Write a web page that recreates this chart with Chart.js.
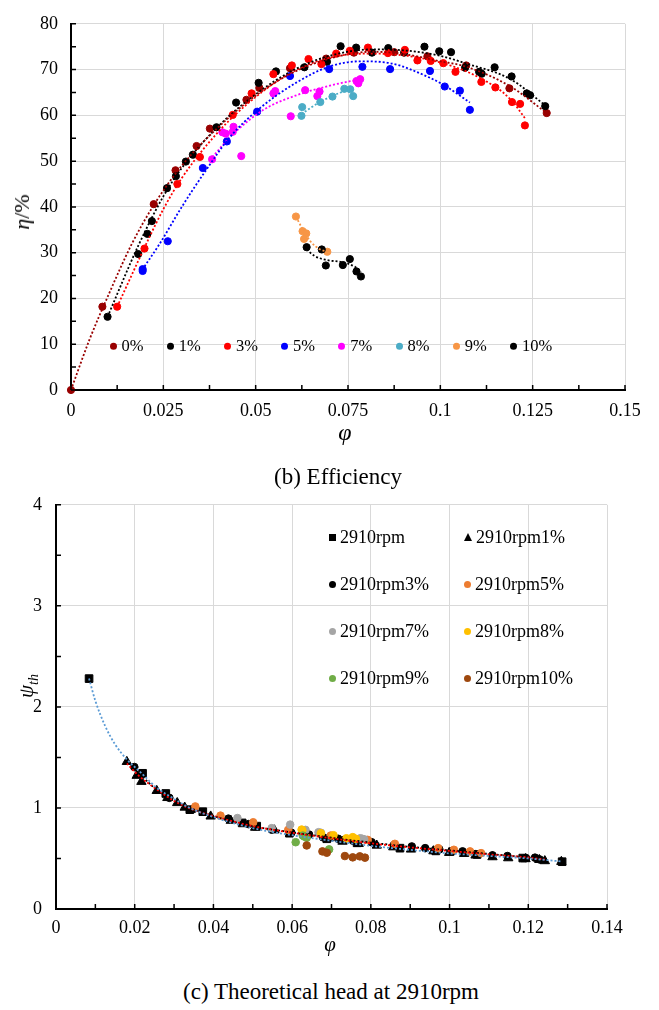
<!DOCTYPE html>
<html>
<head>
<meta charset="utf-8">
<title>Efficiency and theoretical head</title>
<script src="https://cdn.jsdelivr.net/npm/chart.js@4.4.1/dist/chart.umd.min.js"></script>
<style>
  body { margin: 0; background: #fff; font-family: "Liberation Serif", "Times New Roman", serif; color: #000; }
  #page { position: relative; width: 659px; height: 1010px; overflow: hidden; }
  canvas { position: absolute; left: 0; }
  .txt { position: absolute; transform: translate(-50%, -50%); white-space: nowrap; line-height: 1; }
  .rot { transform: translate(-50%, -50%) rotate(-90deg); }
  .leg { position: absolute; display: flex; align-items: center; white-space: nowrap; line-height: 1; transform: translateY(-50%); }
  .mk { display: inline-block; }
</style>
</head>
<body>
<div id="page">
  <canvas id="effChart" width="659" height="445" style="top:0"></canvas>
  <canvas id="headChart" width="659" height="480" style="top:480px"></canvas>
  <div class="txt rot" style="left:22px;top:212px;font-size:22px"><i>η</i>/%</div>
  <div class="txt" style="left:345px;top:432px;font-size:24px"><i>φ</i></div>
  <div class="txt" style="left:338px;top:476px;font-size:23px">(b) Efficiency</div>
  <div class="txt rot" style="left:26px;top:686px;font-size:21px"><i>ψ<span style="font-size:14px;position:relative;top:5px">th</span></i></div>
  <div class="txt" style="left:330px;top:944px;font-size:21px"><i>φ</i></div>
  <div class="txt" style="left:331px;top:991px;font-size:23px">(c) Theoretical head at 2910rpm</div>
  <div id="effLegend"></div>
  <div id="headLegend"></div>
</div>
<script>
Chart.defaults.font.family = "'Liberation Serif', 'Times New Roman', serif";
Chart.defaults.color = "#000";

// ---- (b) efficiency: [phi, eta %] per gas fraction ----
const effLabels = ["0%", "1%", "3%", "5%", "7%", "8%", "9%", "10%"];
const effColors = ["#990000", "#000000", "#ff0000", "#0000ff", "#ff00ff", "#4bacc6", "#f79646", "#000000"];

const eff0 = [[0, 0], [0.0085, 18.2], [0.0224, 40.6], [0.0283, 48.0], [0.0340, 53.3], [0.0376, 57.1], [0.0475, 63.4],
  [0.0510, 66.0], [0.0593, 70.3], [0.0691, 72.4], [0.0766, 73.7], [0.0875, 73.8], [0.0965, 72.9], [0.1070, 70.9],
  [0.1187, 65.9], [0.1288, 60.5]];
const eff1 = [[0.0099, 16.0], [0.0182, 29.7], [0.0207, 34.1], [0.0219, 36.9], [0.0260, 44.1], [0.0284, 46.7],
  [0.0311, 49.9], [0.0330, 51.4], [0.0394, 57.4], [0.0447, 62.8], [0.0508, 67.1], [0.0555, 69.6], [0.0632, 70.5],
  [0.0693, 71.7], [0.0730, 75.1], [0.0772, 74.8], [0.0815, 73.7], [0.0859, 74.7], [0.0902, 73.7], [0.0957, 75.0],
  [0.0997, 74.0], [0.1029, 73.8], [0.1067, 70.4], [0.1105, 69.5], [0.1112, 69.1], [0.1147, 70.5], [0.1193, 68.5],
  [0.1234, 64.8], [0.1243, 64.4], [0.1284, 62.0]];
const eff3 = [[0.0125, 18.2], [0.0199, 30.9], [0.0288, 45.0], [0.0349, 50.9], [0.0438, 60.1], [0.0489, 64.8],
  [0.0548, 69.0], [0.0598, 70.9], [0.0643, 72.3], [0.0678, 71.2], [0.0718, 73.5], [0.0755, 74.1], [0.0804, 74.8],
  [0.0858, 73.6], [0.0904, 74.3], [0.0938, 72.0], [0.0974, 71.9], [0.1008, 71.4], [0.1041, 69.5], [0.1111, 67.3],
  [0.1149, 66.1], [0.1194, 62.9], [0.1216, 62.5], [0.1229, 57.8]];
const eff5 = [[0.0194, 26.4], [0.0194, 26.0], [0.0262, 32.5], [0.0357, 48.5], [0.0422, 54.3], [0.0504, 60.8],
  [0.0593, 68.6], [0.0699, 70.1], [0.0789, 70.6], [0.0864, 70.1], [0.0972, 69.7], [0.1012, 66.3], [0.1053, 65.4],
  [0.1080, 61.2]];
const eff7 = [[0.0382, 50.4], [0.0410, 56.3], [0.0419, 56.0], [0.0438, 56.4], [0.0440, 57.5], [0.0461, 51.1],
  [0.0548, 64.8], [0.0553, 65.3], [0.0595, 59.8], [0.0634, 65.5], [0.0667, 64.2], [0.0673, 65.2], [0.0773, 67.5],
  [0.0778, 67.0], [0.0783, 67.9]];
const eff8 = [[0.0624, 59.9], [0.0626, 61.8], [0.0675, 62.9], [0.0708, 64.1], [0.0740, 65.8], [0.0756, 65.7], [0.0764, 64.2]];
const eff9 = [[0.0609, 37.9], [0.0627, 34.7], [0.0631, 33.0], [0.0637, 34.2], [0.0694, 30.2]];
const eff10 = [[0.0638, 31.2], [0.0679, 30.7], [0.0690, 27.2], [0.0736, 27.3], [0.0755, 28.6], [0.0773, 25.9], [0.0785, 24.8]];
const effSeries = [eff0, eff1, eff3, eff5, eff7, eff8, eff9, eff10];

// dotted trend lines
const effTrend0 = [[0, 0], [0.005, 11], [0.01, 20.5], [0.0164, 31.8], [0.0225, 40.5], [0.03, 49], [0.04, 57.5],
  [0.05, 64.3], [0.06, 69.3], [0.07, 72.4], [0.0815, 73.9], [0.09, 73.4], [0.1, 71.8], [0.1067, 70.7], [0.119, 66.3], [0.1288, 60.5]];
const effTrend1 = [[0.0099, 16], [0.0182, 31.5], [0.025, 42.3], [0.03, 48.5], [0.04, 57.7], [0.05, 64.6], [0.06, 69.8],
  [0.07, 73], [0.0815, 74.4], [0.09, 74.2], [0.1, 73], [0.1067, 71.4], [0.119, 67.9], [0.1284, 62.2]];
const effTrend3 = [[0.0125, 18.2], [0.0203, 31.8], [0.025, 39.5], [0.03, 46.3], [0.04, 56.5], [0.05, 64], [0.06, 69.5],
  [0.07, 72.6], [0.0815, 73.5], [0.0972, 72.1], [0.1107, 68.2], [0.119, 63.5], [0.1229, 59.4]];
const effTrend5 = [[0.0199, 27], [0.0239, 31.8], [0.03, 40], [0.0357, 47], [0.0431, 55.3], [0.0503, 61], [0.0611, 67.2],
  [0.0701, 70.7], [0.0783, 71.8], [0.0864, 71.4], [0.0972, 68.2], [0.1012, 66.5], [0.108, 62.8]];
const effTrend7 = [[0.0376, 50.2], [0.043, 55.2], [0.0521, 61.2], [0.0611, 64.4], [0.0701, 66.5], [0.0783, 67.9]];
const effTrend8 = [[0.0624, 60.3], [0.0674, 62.9], [0.0737, 65.2], [0.0764, 65.8]];
const effTrend9 = [[0.0609, 37.9], [0.0626, 35.3], [0.0648, 32.5], [0.0675, 30.7], [0.0694, 30.2]];
const effTrend10 = [[0.0638, 30.7], [0.0659, 29.3], [0.0692, 28.4], [0.0736, 27.9], [0.0769, 26.9], [0.0785, 25.8]];
const effTrends = [effTrend0, effTrend1, effTrend3, effTrend5, effTrend7, effTrend8, effTrend9, effTrend10];

const effXLabels = ["0", "0.025", "0.05", "0.075", "0.1", "0.125", "0.15"];
const effYLabels = ["0", "10", "20", "30", "40", "50", "60", "70", "80"];

// ---- (c) theoretical head at 2910rpm: [phi, psi_th] ----
const headLabels = ["2910rpm", "2910rpm1%", "2910rpm3%", "2910rpm5%", "2910rpm7%", "2910rpm8%", "2910rpm9%", "2910rpm10%"];
const headColors = ["#000000", "#000000", "#000000", "#ed7d31", "#a5a5a5", "#ffc000", "#70ad47", "#9e480e"];
const headShapes = ["rect", "triangle", "circle", "circle", "circle", "circle", "circle", "circle"];

const head0 = [[0.0084, 2.28], [0.0220, 1.343], [0.0279, 1.143], [0.0340, 0.983], [0.0373, 0.963], [0.0473, 0.852],
  [0.0510, 0.82], [0.0593, 0.75], [0.0688, 0.695], [0.0765, 0.655], [0.0874, 0.602], [0.0965, 0.575], [0.1070, 0.54],
  [0.1186, 0.504], [0.1286, 0.468]];
const head1 = [[0.0180, 1.457], [0.0205, 1.32], [0.0217, 1.26], [0.0256, 1.17], [0.0283, 1.10], [0.0308, 1.05],
  [0.0327, 1.005], [0.0393, 0.917], [0.0444, 0.875], [0.0506, 0.806], [0.0555, 0.78], [0.0632, 0.74], [0.0693, 0.70],
  [0.0728, 0.668], [0.0769, 0.645], [0.0815, 0.629], [0.0857, 0.612], [0.0902, 0.590], [0.0959, 0.573], [0.0999, 0.557],
  [0.1037, 0.547], [0.1066, 0.531], [0.1109, 0.514], [0.1149, 0.504], [0.1193, 0.495], [0.1228, 0.487], [0.1242, 0.475],
  [0.1284, 0.468]];
const head3 = [[0.0199, 1.405], [0.0288, 1.10], [0.0349, 0.99], [0.0438, 0.894], [0.0489, 0.84], [0.0548, 0.786],
  [0.0598, 0.755], [0.0643, 0.737], [0.0678, 0.71], [0.0717, 0.695], [0.0755, 0.675], [0.0802, 0.661], [0.0858, 0.63],
  [0.0904, 0.619], [0.0938, 0.602], [0.0974, 0.59], [0.1008, 0.575], [0.1033, 0.57], [0.1109, 0.531], [0.1147, 0.524],
  [0.1194, 0.505], [0.1217, 0.508], [0.1229, 0.49]];
const head5 = [[0.0354, 1.015], [0.0418, 0.924], [0.0501, 0.858], [0.0590, 0.783], [0.0698, 0.727], [0.0792, 0.684],
  [0.0861, 0.645], [0.0971, 0.602], [0.1011, 0.586], [0.1052, 0.57], [0.1080, 0.553]];
const head7 = [[0.0461, 0.90], [0.0548, 0.80], [0.0595, 0.835], [0.0634, 0.783], [0.0667, 0.76], [0.0673, 0.755],
  [0.0773, 0.70], [0.0778, 0.695], [0.0783, 0.69]];
const head8 = [[0.0624, 0.786], [0.0626, 0.78], [0.0673, 0.75], [0.0705, 0.73], [0.0738, 0.70], [0.0754, 0.711], [0.0762, 0.695]];
const head9 = [[0.0609, 0.661], [0.0627, 0.727], [0.0631, 0.717], [0.0637, 0.705], [0.0694, 0.59]];
const head10 = [[0.0637, 0.629], [0.0677, 0.57], [0.0688, 0.557], [0.0734, 0.524], [0.0754, 0.511], [0.0772, 0.521], [0.0785, 0.508]];
const headSeries = [head0, head1, head3, head5, head7, head8, head9, head10];

const headTrendBlue = [[0.0084, 2.28], [0.01, 2.06], [0.0125, 1.81], [0.015, 1.63], [0.018, 1.48], [0.0213, 1.36],
  [0.0256, 1.20], [0.03, 1.09], [0.034, 1.0], [0.04, 0.91], [0.05, 0.80], [0.06, 0.73], [0.07, 0.675], [0.08, 0.625],
  [0.09, 0.585], [0.1, 0.55], [0.11, 0.525], [0.12, 0.50], [0.1286, 0.47]];
const headTrendRed = [[0.018, 1.44], [0.021, 1.32], [0.025, 1.2], [0.03, 1.07], [0.035, 0.98], [0.04, 0.92], [0.05, 0.82],
  [0.06, 0.755], [0.07, 0.70], [0.08, 0.65], [0.09, 0.61], [0.1, 0.575], [0.11, 0.54], [0.12, 0.51], [0.1242, 0.49]];
const headTrendBlack = [[0.0199, 1.39], [0.025, 1.2], [0.03, 1.07], [0.04, 0.92], [0.05, 0.82], [0.06, 0.758],
  [0.07, 0.705], [0.08, 0.657], [0.09, 0.615], [0.1, 0.58], [0.11, 0.545], [0.1229, 0.5]];
const headTrends = [headTrendBlue, headTrendRed, headTrendBlack];
const headTrendColors = ["#5b9bd5", "#ff0000", "#000000"];

const headXLabels = ["0", "0.02", "0.04", "0.06", "0.08", "0.1", "0.12", "0.14"];
const headYLabels = ["0", "1", "2", "3", "4"];

const GRID = "#d9d9d9";

// labelled ticks plus a half-step minor tick between each pair
function withMinor(labels) {
  const major = labels.map(Number);
  const all = [];
  major.forEach((v, i) => {
    all.push(v);
    if (i < major.length - 1) all.push((v + major[i + 1]) / 2);
  });
  return all;
}

function axis(labels, fit, padding) {
  const values = withMinor(labels);
  return {
    type: "linear",
    min: values[0],
    max: values[values.length - 1],
    afterBuildTicks: s => { s.ticks = values.map(v => ({ value: v })); },
    afterFit: fit,
    ticks: {
      autoSkip: false,
      maxRotation: 0,
      padding: padding,
      font: { size: 18 },
      callback: (v, i) => i % 2 ? "" : labels[i / 2]
    },
    grid: {
      color: c => c.index % 2 ? "rgba(0,0,0,0)" : GRID,
      lineWidth: 1,
      drawTicks: false
    },
    border: { color: "#000", width: 2 }
  };
}

// short tick marks pointing into the plot, like the original
const innerTicks = {
  id: "innerTicks",
  afterDraw(chart) {
    const { ctx, chartArea, scales: { x, y } } = chart;
    ctx.save();
    ctx.strokeStyle = "#000";
    ctx.lineWidth = 1.5;
    ctx.beginPath();
    x.ticks.forEach(t => {
      const px = x.getPixelForValue(t.value);
      ctx.moveTo(px, chartArea.bottom);
      ctx.lineTo(px, chartArea.bottom - 5);
    });
    y.ticks.forEach(t => {
      const py = y.getPixelForValue(t.value);
      ctx.moveTo(chartArea.left, py);
      ctx.lineTo(chartArea.left + 5, py);
    });
    ctx.stroke();
    ctx.restore();
  }
};

function pointSet(label, data, color, shape, radius, index) {
  return {
    label: label,
    data: data,
    pointStyle: shape,
    pointRadius: radius,
    pointBackgroundColor: color,
    pointBorderColor: color,
    pointBorderWidth: 1,
    showLine: false,
    clip: false,
    order: 100 - index
  };
}

function trendSet(data, color) {
  return {
    data: data,
    showLine: true,
    borderColor: color,
    borderWidth: 1.8,
    borderDash: [2, 2],
    pointRadius: 0,
    cubicInterpolationMode: "monotone",
    clip: false,
    order: 0
  };
}

function baseOptions(xAxis, yAxis, pad) {
  return {
    responsive: false,
    animation: false,
    events: [],
    layout: { padding: pad },
    scales: { x: xAxis, y: yAxis },
    plugins: { legend: { display: false }, tooltip: { enabled: false } }
  };
}

new Chart(document.getElementById("effChart"), {
  type: "scatter",
  data: {
    datasets: effSeries.map((d, i) => pointSet(effLabels[i], d, effColors[i], "circle", 3.6, i))
      .concat(effTrends.map((d, i) => trendSet(d, effColors[i])))
  },
  options: baseOptions(
    axis(effXLabels, s => { s.height = 55; }, 10),
    axis(effYLabels, s => { s.width = 71; }, 13),
    { top: 13, right: 34, left: 0, bottom: 0 }
  ),
  plugins: [innerTicks]
});

new Chart(document.getElementById("headChart"), {
  type: "scatter",
  data: {
    datasets: headSeries.map((d, i) => pointSet(headLabels[i], d, headColors[i], headShapes[i],
        headShapes[i] === "circle" ? 3.8 : 5.4, i))
      .concat(headTrends.map((d, i) => trendSet(d, headTrendColors[i])))
  },
  options: baseOptions(
    axis(headXLabels, s => { s.height = 51; }, 8),
    axis(headYLabels, s => { s.width = 56; }, 14),
    { top: 22, right: 52, left: 0, bottom: 0 }
  ),
  plugins: [innerTicks]
});

// legends as html, placed where the original put them inside the plots
function marker(shape, color) {
  const m = document.createElement("span");
  m.className = "mk";
  if (shape === "triangle") {
    m.style.cssText = "width:0;height:0;border-left:4.5px solid transparent;border-right:4.5px solid transparent;border-bottom:8px solid " + color;
  } else if (shape === "rect") {
    m.style.cssText = "width:7px;height:7px;background:" + color;
  } else {
    m.style.cssText = "width:7px;height:7px;border-radius:50%;background:" + color;
  }
  return m;
}

const effLegend = document.getElementById("effLegend");
effLabels.forEach((label, i) => {
  const item = document.createElement("div");
  item.className = "leg";
  item.style.cssText = "left:" + (109.5 + i * 57.2) + "px;top:346px;font-size:16.5px";
  const m = marker("circle", effColors[i]);
  m.style.marginRight = "5px";
  item.appendChild(m);
  item.appendChild(document.createTextNode(label));
  effLegend.appendChild(item);
});

const headLegend = document.getElementById("headLegend");
headLabels.forEach((label, i) => {
  const item = document.createElement("div");
  item.className = "leg";
  item.style.cssText = "left:" + (i % 2 ? 464 : 329) + "px;top:" + (537 + Math.floor(i / 2) * 47) + "px;font-size:18px";
  const m = marker(headShapes[i], headColors[i]);
  m.style.marginRight = "4px";
  item.appendChild(m);
  item.appendChild(document.createTextNode(label));
  headLegend.appendChild(item);
});
</script>
</body>
</html>
